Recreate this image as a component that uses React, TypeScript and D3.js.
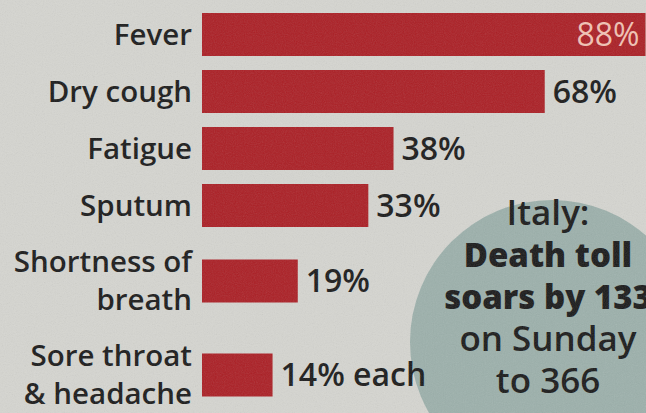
import React from "react";
import * as d3 from "d3";

const categories: string[][] = [
  ["Fever"],
  ["Dry cough"],
  ["Fatigue"],
  ["Sputum"],
  ["Shortness of", "breath"],
  ["Sore throat", "& headache"],
];
const values: number[] = [88, 68, 38, 33, 19, 14];
const valueSuffix: string[] = ["%", "%", "%", "%", "%", "% each"];
const calloutLines: string[] = ["Italy:", "Death toll", "soars by 133", "on Sunday", "to 366"];
const calloutBold: boolean[] = [false, true, true, false, false];

const W = 646;
const H = 413;
const FONT = "'Open Sans', 'Noto Sans', sans-serif";
const RED = "#ab1f25";
const INK = "#1a1a1a";

export default function App() {
  const x = d3.scaleLinear().domain([0, 100]).range([202, 706]);
  const heights = categories.map((c) => 20 + c.length * 37);
  const tops = [0, ...Array.from(d3.cumsum(heights))];
  const total = d3.sum(heights);
  const y = d3.scaleLinear().domain([0, total]).range([6, 6 + total]);
  const center = (i: number) => y(tops[i] + heights[i] / 2);
  const barH = 43;
  const valueSize = 32;
  const catSize = 29.5;

  return (
    <svg
      width={W}
      height={H}
      viewBox={`0 0 ${W} ${H}`}
      style={{ position: "absolute", left: 0, top: 0, display: "block" }}
    >
      <defs>
        <filter id="grain" x="0" y="0" width="100%" height="100%">
          <feTurbulence type="fractalNoise" baseFrequency="0.9" numOctaves="2" seed="3" />
          <feColorMatrix type="saturate" values="0" />
          <feComponentTransfer>
            <feFuncA type="linear" slope="0.16" />
          </feComponentTransfer>
        </filter>
      </defs>
      <rect x={0} y={0} width={W} height={H} fill="#d5d5d0" />

      {/* callout circle */}
      <circle cx={552} cy={342} r={142} fill="#9cb0ab" />

      {/* bars */}
      {values.map((v, i) => (
        <rect
          key={"b" + i}
          x={x(0)}
          y={center(i) - barH / 2}
          width={x(v) - x(0)}
          height={barH}
          fill={RED}
        />
      ))}

      {/* category labels */}
      {categories.map((lines, i) =>
        lines.map((ln, k) => (
          <text
            key={"c" + i + "-" + k}
            x={192}
            y={center(i) + 10 + (k - (lines.length - 1) / 2) * 38}
            textAnchor="end"
            fontFamily={FONT}
            fontSize={catSize}
            fontWeight={600}
            fill={INK}
          >
            {ln}
          </text>
        ))
      )}

      {/* value labels */}
      {values.map((v, i) => {
        const inside = x(v) + 90 > W;
        return (
          <text
            key={"v" + i}
            x={inside ? x(v) - 6 : x(v) + 8}
            y={center(i) + 11}
            textAnchor={inside ? "end" : "start"}
            fontFamily={FONT}
            fontSize={valueSize}
            fontWeight={inside ? 400 : 600}
            fill={inside ? "#f2c2b4" : INK}
          >
            {v + valueSuffix[i]}
          </text>
        );
      })}

      {/* callout text */}
      {calloutLines.map((ln, k) => (
        <text
          key={"t" + k}
          x={548}
          y={225 + k * 42}
          textAnchor="middle"
          fontFamily={FONT}
          fontSize={calloutBold[k] ? 33 : 35}
          fontWeight={calloutBold[k] ? 800 : 600}
          fill={INK}
        >
          {ln}
        </text>
      ))}

      <rect x={0} y={0} width={W} height={H} filter="url(#grain)" />
    </svg>
  );
}
